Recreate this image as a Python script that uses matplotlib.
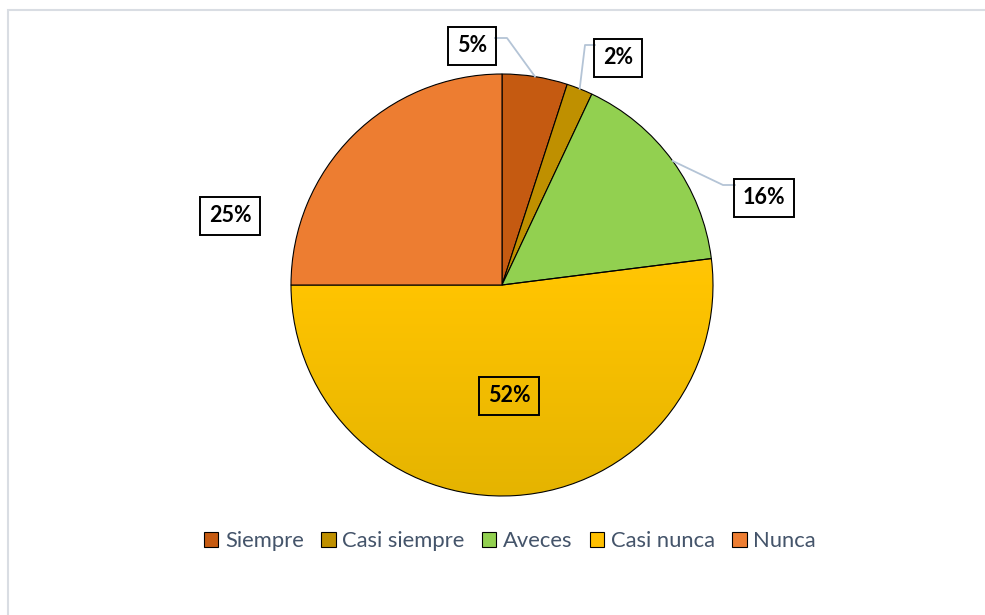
import numpy as np
import matplotlib
matplotlib.use("Agg")
import matplotlib.pyplot as plt
from matplotlib.patches import Rectangle

# data
categories = ["Siempre", "Casi siempre", "Aveces", "Casi nunca", "Nunca"]
percent = [5, 2, 16, 52, 25]
colors = ["#C55A11", "#BF9000", "#92D050", "#FFC000", "#ED7D31"]

plt.rcParams["font.family"] = ["Lato", "DejaVu Sans"]

W, H = 985, 615
fig = plt.figure(figsize=(W / 100, H / 100), dpi=100)
ax = fig.add_axes([0, 0, 1, 1])

cx, cy, r = 502, H - 285, 211
wedges, _ = ax.pie(percent, colors=colors, startangle=90, counterclock=False,
                   center=(cx, cy), radius=r,
                   wedgeprops=dict(edgecolor="black", linewidth=0.8))
ax.set_xlim(0, W)
ax.set_ylim(0, H)
ax.set_aspect("equal")
ax.axis("off")

# gradient fill on the big yellow slice
grad = np.linspace(0, 1, 256)[:, None]
cmap = matplotlib.colors.LinearSegmentedColormap.from_list(
    "yel", ["#E5B400", "#FFC400", "#FFC93F"])
wedges[3].set_facecolor("none")
im = ax.imshow(grad, cmap=cmap, aspect="auto", origin="lower",
               extent=(cx - r, cx + r, cy - r, cy + r), zorder=0.5)
im.set_clip_path(wedges[3])
wedges[3].set_zorder(1)

# data labels (layout in pixel space)
label_pos = [(472, H - 46), (618, H - 58), (764, H - 198), (509, H - 396), (230, H - 216)]
# leader lines: box edge -> elbow -> slice edge
leaders = {0: [(495, H - 38), (507, H - 38)],
           1: [(595, H - 45), (585, H - 45)],
           2: [(735, H - 185), (723, H - 185)]}

start = 90.0
for i, (v, (lx, ly)) in enumerate(zip(percent, label_pos)):
    mid = np.deg2rad(start - v * 3.6 / 2)
    start -= v * 3.6
    ax.text(lx, ly, f"{v}%", ha="center", va="center", fontsize=15.5,
            fontweight="bold", color="black", zorder=5,
            bbox=dict(boxstyle="square,pad=0.4", facecolor="none",
                      edgecolor="black", linewidth=1.4))
    if i in leaders:
        px, py = cx + r * np.cos(mid), cy + r * np.sin(mid)
        pts = leaders[i] + [(px, py)]
        ax.plot([p[0] for p in pts], [p[1] for p in pts],
                color="#B4C4D6", linewidth=1.3, zorder=4)

# outer chart border (only top and left are visible)
ax.add_patch(Rectangle((8, -10), 1000, H - 10 + 10, fill=False,
                       edgecolor="#D9DDE3", linewidth=1.5, zorder=0))

handles = [plt.Rectangle((0, 0), 1, 1, facecolor=c, edgecolor="black",
                         linewidth=0.8) for c in colors]
leg = fig.legend(handles, categories, loc="center",
                 bbox_to_anchor=(510 / W, 1 - 541 / H), ncol=5, frameon=False,
                 fontsize=15.8, handlelength=0.65, handleheight=0.65,
                 handletextpad=0.3, columnspacing=0.8)
for t in leg.get_texts():
    t.set_color("#44546A")

fig.savefig("out.png", dpi=100)
